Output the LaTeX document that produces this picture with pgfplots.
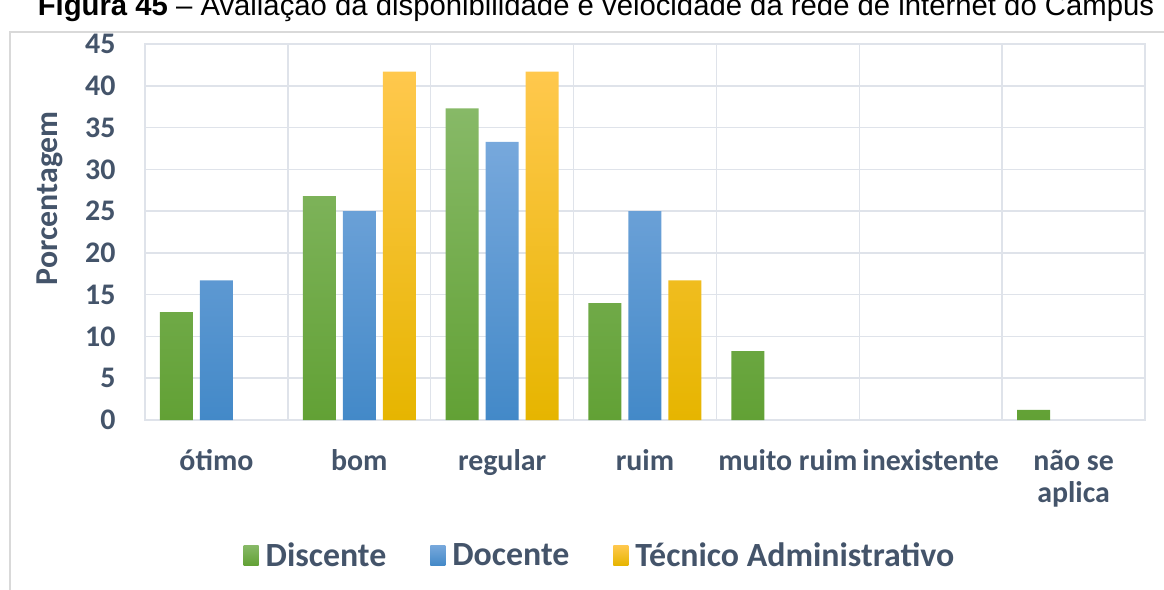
\documentclass[border=0pt]{standalone}
\usepackage{pgfplots}
\pgfplotsset{compat=1.18}
\usepackage{fontspec}
\setmainfont{Carlito}
\newfontfamily\arial{Liberation Sans}

\definecolor{txt}{HTML}{44546A}
\definecolor{gridc}{HTML}{DFE3EA}
\definecolor{frame}{HTML}{D9D9D9}
% bar gradients (top / middle / bottom)
\definecolor{gTop}{HTML}{87B967}
\definecolor{gMid}{HTML}{70B244}
\definecolor{gBot}{HTML}{62A135}
\definecolor{bTop}{HTML}{77A8DC}
\definecolor{bMid}{HTML}{5599DD}
\definecolor{bBot}{HTML}{4389C8}
\definecolor{yTop}{HTML}{FFC84D}
\definecolor{yMid}{HTML}{FFC600}
\definecolor{yBot}{HTML}{E6B500}

\newcommand{\lbl}{\fontsize{30}{33}\selectfont\bfseries}

\begin{document}
\begin{tikzpicture}
\clip (0bp,0bp) rectangle (1164bp,-590bp);

% figure caption, cut at the top as in the scan
\node[anchor=base, text=black, font=\arial\fontsize{29.4}{32}\selectfont]
  at (596bp,-15bp) {\textbf{Figura 45} – Avaliação da disponibilidade e velocidade da rede de internet do Campus};

% chart area frame
\draw[frame, line width=1.5bp] (10bp,-600bp) -- (10bp,-32bp) -- (1180bp,-32bp);

\begin{axis}[
    at={(145bp,-420bp)}, anchor=south west,
    scale only axis, width=1000bp, height=376bp,
    ybar=7bp, bar width=33bp,
    xmin=-0.5, xmax=6.5, ymin=0, ymax=45,
    xtick={0,...,6},
    xticklabels={ótimo, bom, regular, ruim, muito ruim, inexistente,
      {\begin{tabular}[t]{@{}c@{}}não se\\aplica\end{tabular}}},
    minor x tick num=1,
    ytick={0,5,...,45},
    ymajorgrids, xminorgrids,
    major grid style={gridc, line width=1.5bp},
    minor grid style={gridc, line width=1.5bp},
    axis line style={gridc, line width=1.5bp},
    major tick length=0pt, minor tick length=0pt,
    /pgf/number format/assume math mode=true,
    ticklabel style={text=txt, font=\lbl},
    xticklabel style={anchor=base, yshift=-50bp},
    yticklabel style={anchor=east, xshift=-26bp},
    ylabel={Porcentagem},
    ylabel style={at={(axis description cs:-0.095,0.59)}, anchor=center, rotate=0, text=txt,
      font=\fontsize{32}{34}\selectfont\bfseries},
    legend columns=3,
    legend style={at={(axis description cs:0.455,-0.36)}, anchor=center,
      draw=none, fill=none, text=txt, font=\fontsize{34}{36}\selectfont\bfseries,
      /tikz/every odd column/.append style={column sep=5bp},
      /tikz/every even column/.append style={column sep=42bp}},
    legend image code/.code={\path[#1, draw=none] (0bp,-10bp) rectangle (15bp,10bp);},
]
\addplot[draw=none, top color=gTop, middle color=gMid, bottom color=gBot]
  coordinates {(0,12.9) (1,26.8) (2,37.3) (3,14.0) (4,8.25) (6,1.2)};
\addplot[draw=none, top color=bTop, middle color=bMid, bottom color=bBot]
  coordinates {(0,16.7) (1,25.0) (2,33.3) (3,25.0)};
\addplot[draw=none, top color=yTop, middle color=yMid, bottom color=yBot]
  coordinates {(1,41.7) (2,41.7) (3,16.7)};
\legend{Discente, Docente, Técnico Administrativo}
\end{axis}
\end{tikzpicture}
\end{document}
